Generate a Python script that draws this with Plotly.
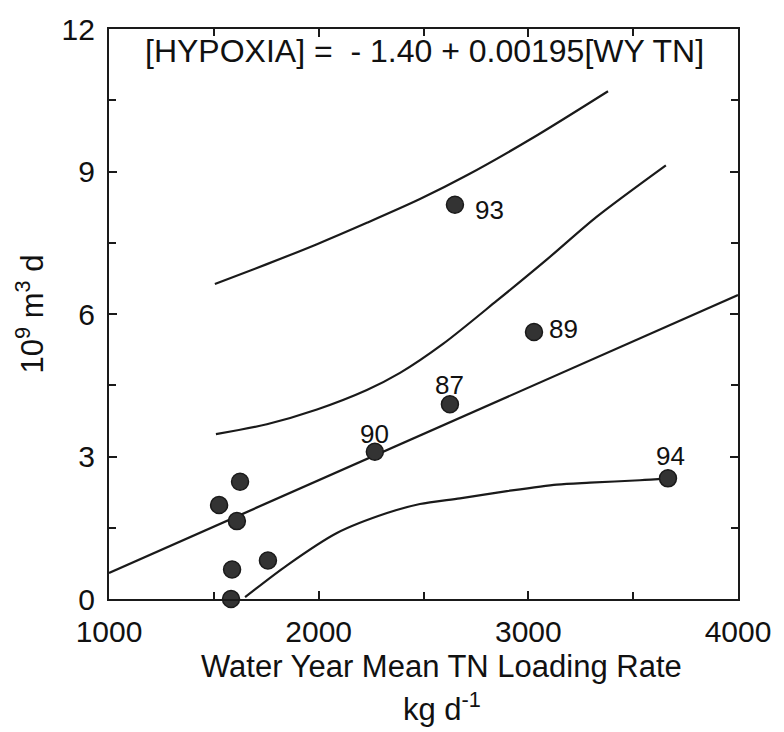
import plotly.graph_objects as go

# Observations (water year TN loading vs hypoxia volume)
obs_x = [2650, 3027, 2626, 2268, 3666, 1625, 1525, 1610, 1758, 1587, 1582]
obs_y = [8.30, 5.62, 4.10, 3.10, 2.54, 2.47, 1.98, 1.64, 0.81, 0.62, 0.00]
obs_lab = ["93", "89", "87", "90", "94", "", "", "", "", "", ""]

# Regression line endpoints
reg_x = [1000, 4000]
reg_y = [0.55, 6.40]

# Upper prediction curve
up_x = [1505, 1753, 1992, 2230, 2483, 2707, 3022, 3380]
up_y = [6.63, 7.05, 7.47, 7.92, 8.42, 8.92, 9.71, 10.69]

# Upper confidence curve
mid_x = [1510, 1753, 1992, 2230, 2388, 2593, 2850, 3089, 3327, 3656]
mid_y = [3.47, 3.68, 3.99, 4.40, 4.76, 5.37, 6.28, 7.15, 8.05, 9.13]

# Lower curve
lo_x = [1649, 1849, 2087, 2326, 2483, 2674, 2898, 3136, 3294, 3532, 3661]
lo_y = [0.04, 0.71, 1.39, 1.81, 2.00, 2.12, 2.27, 2.41, 2.45, 2.50, 2.54]

x_ticks = [1000, 2000, 3000, 4000]
y_ticks = [0, 3, 6, 9, 12]

# label placement (pixel offsets from the point)
LABEL_SHIFT = {"93": (35, -5), "89": (30, 3), "87": (0, 19), "90": (0, 18), "94": (3, 22)}

LINE = "#1a1a1a"
FONT = "Liberation Sans, Arial, Helvetica, sans-serif"

fig = go.Figure()
for xs, ys in [(reg_x, reg_y), (up_x, up_y), (mid_x, mid_y), (lo_x, lo_y)]:
    fig.add_trace(go.Scatter(x=xs, y=ys, mode="lines",
                             line=dict(color=LINE, width=2.2, shape="spline", smoothing=0.8),
                             hoverinfo="skip", showlegend=False))

fig.add_trace(go.Scatter(
    x=obs_x, y=obs_y, mode="markers",
    marker=dict(size=17, color="#333333", line=dict(color="#1a1a1a", width=1.5)),
    cliponaxis=False, showlegend=False))

for xv, yv, t in zip(obs_x, obs_y, obs_lab):
    if not t:
        continue
    dx, dy = LABEL_SHIFT[t]
    fig.add_annotation(x=xv, y=yv, xref="x", yref="y", text=t, showarrow=False,
                       xshift=dx, yshift=dy, xanchor="center", yanchor="middle",
                       font=dict(family=FONT, size=26, color="#111"))

axis_common = dict(showline=True, linecolor=LINE, linewidth=2.2, mirror="ticks",
                   ticks="inside", ticklen=8, tickwidth=2, tickcolor=LINE,
                   showgrid=False, zeroline=False,
                   tickfont=dict(family=FONT, size=30, color="#111"))

fig.update_layout(
    width=784, height=732,
    margin=dict(l=109, r=46, t=22, b=133),
    paper_bgcolor="white", plot_bgcolor="white",
    xaxis=dict(range=[1000, 4000], tickvals=x_ticks, ticktext=[str(v) for v in x_ticks],
               minor=dict(dtick=500, ticks="inside", ticklen=7, tickcolor=LINE, tickwidth=2),
               ticklabelstandoff=5, **axis_common),
    yaxis=dict(range=[0, 12], tickvals=y_ticks, ticktext=[str(v) for v in y_ticks],
               minor=dict(dtick=1.5, ticks="inside", ticklen=7, tickcolor=LINE, tickwidth=2),
               ticklabelstandoff=6, **axis_common),
    font=dict(family=FONT, color="#111"),
)

fig.add_annotation(x=2507, y=11.54, xref="x", yref="y",
                   text="[HYPOXIA] =  - 1.40 + 0.00195[WY TN]", showarrow=False,
                   font=dict(family=FONT, size=32, color="#111"), xanchor="center", yanchor="middle")
fig.add_annotation(x=0.529, y=-0.118, xref="paper", yref="paper",
                   text="Water Year Mean TN Loading Rate", showarrow=False,
                   font=dict(family=FONT, size=31, color="#111"), xanchor="center", yanchor="middle")
fig.add_annotation(x=0.529, y=-0.19, xref="paper", yref="paper",
                   text="kg d<sup>-1</sup>", showarrow=False,
                   font=dict(family=FONT, size=31, color="#111"), xanchor="center", yanchor="middle")
fig.add_annotation(x=-0.1256, y=0.501, xref="paper", yref="paper",
                   text="10<sup>9</sup> m<sup>3</sup> d", showarrow=False, textangle=-90,
                   font=dict(family=FONT, size=31, color="#111"), xanchor="center", yanchor="middle")

fig.write_html("out.html")
